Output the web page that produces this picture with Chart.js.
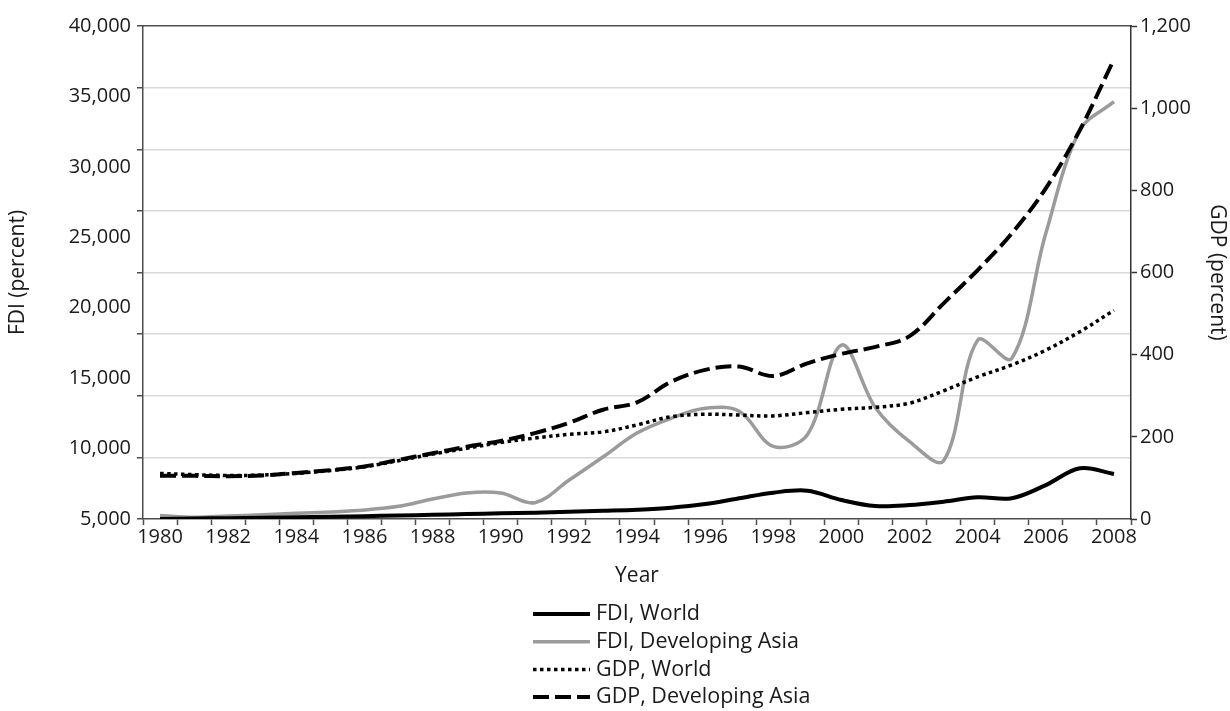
<!DOCTYPE html>
<html><head><meta charset="utf-8">
<script src="https://cdn.jsdelivr.net/npm/chart.js@4/dist/chart.umd.min.js"></script>
<style>html,body{margin:0;padding:0;background:#fff}#wrap{width:1230px;height:711px}</style>
</head><body><div id="wrap"><canvas id="c" width="1230" height="711"></canvas></div>
<script>
const years = ['1980','1981','1982','1983','1984','1985','1986','1987','1988','1989','1990','1991','1992','1993','1994','1995','1996','1997','1998','1999','2000','2001','2002','2003','2004','2005','2006','2007','2008'];
const fdiWorld = [5000,5030,5060,5090,5120,5160,5200,5250,5300,5350,5400,5450,5510,5580,5660,5800,6060,6470,6870,7010,6350,5920,5990,6230,6540,6470,7410,8600,8200];
const fdiAsia  = [5250,5120,5210,5300,5400,5500,5640,5900,6420,6850,6850,6160,7750,9400,11100,12150,12860,12650,10150,10980,17350,12900,10490,9140,17700,16400,25280,32600,34630];
const gdpWorld = [111,108,106,107,111,118,127,142,158,172,186,197,206,212,229,249,255,253,251,259,267,272,282,312,346,375,411,456,508];
const gdpAsia  = [105,105,104,106,112,119,128,144,160,176,190,209,234,266,284,334,363,371,348,379,402,419,445,525,606,695,805,947,1119];
const seriesNames = ['FDI, World','FDI, Developing Asia','GDP, World','GDP, Developing Asia'];
const fdiRange = [5000, 40000, 5000];
const gdpRange = [0, 1200, 200];

const AX = '#4d4d4d';
Chart.defaults.font.family = "'Open Sans', sans-serif";
Chart.defaults.font.size = 20;
Chart.defaults.color = '#1a1a1a';

const fmt = v => Number(v).toLocaleString('en-US');

const stackLegend = {
  id: 'stackLegend',
  afterDraw(chart) {
    const ctx = chart.ctx;
    const x0 = 533, x1 = 590, tx = 596, y0 = 614, dy = 27.7;
    ctx.save();
    ctx.font = "21.5px 'Open Sans', sans-serif";
    ctx.textBaseline = 'middle';
    ctx.textAlign = 'left';
    chart.data.datasets.forEach((ds, i) => {
      const y = y0 + i * dy;
      ctx.beginPath();
      ctx.setLineDash(ds.borderDash || []);
      ctx.lineCap = 'butt';
      ctx.strokeStyle = ds.borderColor;
      ctx.lineWidth = ds.borderWidth;
      ctx.moveTo(x0, y); ctx.lineTo(x1, y);
      ctx.stroke();
      ctx.setLineDash([]);
      ctx.fillStyle = '#1a1a1a';
      ctx.fillText(ds.label, tx, y);
    });
    ctx.restore();
  }
};

new Chart(document.getElementById('c'), {
  type: 'line',
  data: {
    labels: years,
    datasets: [
      {label: seriesNames[0], data: fdiWorld, yAxisID: 'y', borderColor: '#000', borderWidth: 4, order: 2},
      {label: seriesNames[1], data: fdiAsia, yAxisID: 'y', borderColor: '#9b9b9b', borderWidth: 3.5, order: 3},
      {label: seriesNames[2], data: gdpWorld, yAxisID: 'y1', borderColor: '#000', borderWidth: 3.5, borderDash: [3.5, 3.5], order: 1},
      {label: seriesNames[3], data: gdpAsia, yAxisID: 'y1', borderColor: '#000', borderWidth: 4, borderDash: [16, 6], order: 0}
    ]
  },
  options: {
    responsive: false,
    animation: false,
    devicePixelRatio: 1,
    layout: {padding: {top: 26, right: 0, bottom: 122, left: 0}},
    elements: {point: {radius: 0}, line: {tension: 0.35, fill: false, borderCapStyle: 'butt'}},
    plugins: {legend: {display: false}, tooltip: {enabled: false}},
    scales: {
      x: {
        type: 'category', position: 'bottom', offset: true,
        grid: {offset: true, drawOnChartArea: false, tickLength: 6, tickColor: AX, tickWidth: 1.5},
        border: {color: AX, width: 1.5},
        ticks: {autoSkip: false, maxRotation: 0, minRotation: 0, padding: 0,
          callback: function(v, i) { const l = this.getLabelForValue(v); return (Number(l) % 2 === 0) ? l : ''; }},
        title: {display: true, text: 'Year', font: {size: 21}, padding: {top: 0, bottom: 0}},
        afterFit: s => { s.height = 70; }
      },
      xTop: {
        type: 'category', position: 'top', display: true,
        grid: {display: false, drawTicks: false},
        ticks: {display: false},
        border: {display: true, color: AX, width: 1.5},
        afterFit: s => { s.height = 0; }
      },
      yGrid: {
        type: 'linear', position: 'left', weight: 0, min: 0, max: 8,
        ticks: {display: false, stepSize: 1},
        grid: {color: c => (c.index === 0 || c.index === 8) ? 'rgba(0,0,0,0)' : '#d9d9d9', lineWidth: 1.5,
               tickLength: 6, tickColor: AX, tickWidth: 1.5},
        border: {color: AX, width: 1.5},
        afterFit: s => { s.width = 6; }
      },
      y: {
        type: 'linear', position: 'left', weight: 1, min: fdiRange[0], max: fdiRange[1],
        ticks: {stepSize: fdiRange[2], padding: 6, callback: v => fmt(v)},
        grid: {display: false, drawTicks: false},
        border: {display: false},
        title: {display: true, text: 'FDI (percent)', font: {size: 21}, padding: {top: 5, bottom: 0}},
        afterFit: s => { s.width = 137; }
      },
      y1: {
        type: 'linear', position: 'right', min: gdpRange[0], max: gdpRange[1],
        ticks: {stepSize: gdpRange[2], padding: 3, callback: v => fmt(v)},
        grid: {drawOnChartArea: false, tickLength: 6, tickColor: '#333', tickWidth: 1.5},
        border: {color: '#333', width: 1.5},
        title: {display: true, text: 'GDP (percent)', font: {size: 21}, padding: {top: 0, bottom: 0}},
        afterFit: s => { s.width = 99; }
      }
    }
  },
  plugins: [stackLegend]
});
</script></body></html>
